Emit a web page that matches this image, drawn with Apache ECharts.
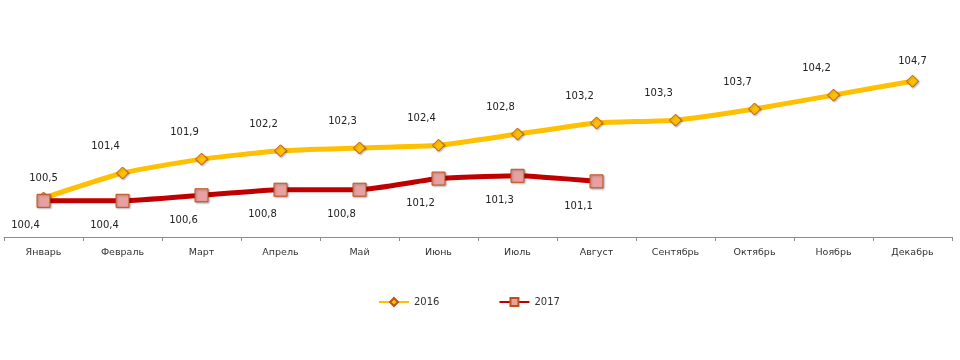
<!DOCTYPE html>
<html><head><meta charset="utf-8">
<script src="https://cdn.jsdelivr.net/npm/echarts@6/dist/echarts.min.js"></script>
<style>html,body{margin:0;padding:0;background:#fff}#c{width:960px;height:360px}</style>
</head><body><div id="c"></div>
<script>
var categories = ['Январь','Февраль','Март','Апрель','Май','Июнь','Июль','Август','Сентябрь','Октябрь','Ноябрь','Декабрь'];
var values2016 = [100.5,101.4,101.9,102.2,102.3,102.4,102.8,103.2,103.3,103.7,104.2,104.7];
var values2017 = [100.4,100.4,100.6,100.8,100.8,101.2,101.3,101.1];
var seriesNames = ['2016','2017'];

var fmt = function(p){ return String(p.value).replace('.', ','); };
var font = 'DejaVu Sans';
var last = values2016.length - 1;
var data2016 = values2016.map(function(v,i){
  var o = {value:v};
  if (i === 0 || i === last) o.label = {offset:[0,-2]};
  return o;
});

var chart = echarts.init(document.getElementById('c'));
chart.setOption({
  animation:false,
  grid:{left:4,right:8,top:20,bottom:123},
  legend:{
    bottom:48, left:373, itemWidth:30, itemHeight:10, itemGap:59,
    textStyle:{fontFamily:font,fontSize:10,color:'#333'},
    data:seriesNames
  },
  xAxis:{
    type:'category', data:categories, boundaryGap:true,
    axisLine:{lineStyle:{color:'#8c8c8c',width:1}},
    axisTick:{show:true,length:4,lineStyle:{color:'#8c8c8c'}},
    axisLabel:{fontFamily:font,fontSize:9.5,color:'#333',margin:11}
  },
  yAxis:{type:'value',min:99.1,max:106.9,show:false,splitLine:{show:false}},
  series:[
    {
      name:seriesNames[0], type:'line', data:data2016, smooth:0.15,
      lineStyle:{color:'#FFC000',width:5},
      itemStyle:{color:'#FFC000',borderColor:'#C0501A',borderWidth:1,shadowColor:'rgba(0,0,0,0.3)',shadowBlur:2,shadowOffsetX:1,shadowOffsetY:1},
      symbol:'diamond', symbolSize:12,
      label:{show:true,position:'top',distance:6,offset:[-17,-9],formatter:fmt,fontFamily:font,fontSize:10,color:'#222'},
      z:2
    },
    {
      name:seriesNames[1], type:'line', data:values2017, smooth:0.15,
      lineStyle:{color:'#C00000',width:5},
      itemStyle:{color:'#E6A1A0',borderColor:'#C0501A',borderWidth:1,shadowColor:'rgba(0,0,0,0.3)',shadowBlur:2,shadowOffsetX:1,shadowOffsetY:1},
      symbol:'rect', symbolSize:13,
      label:{show:true,position:'bottom',distance:6,offset:[-18,7],formatter:fmt,fontFamily:font,fontSize:10,color:'#222'},
      z:3
    }
  ]
});
</script></body></html>
